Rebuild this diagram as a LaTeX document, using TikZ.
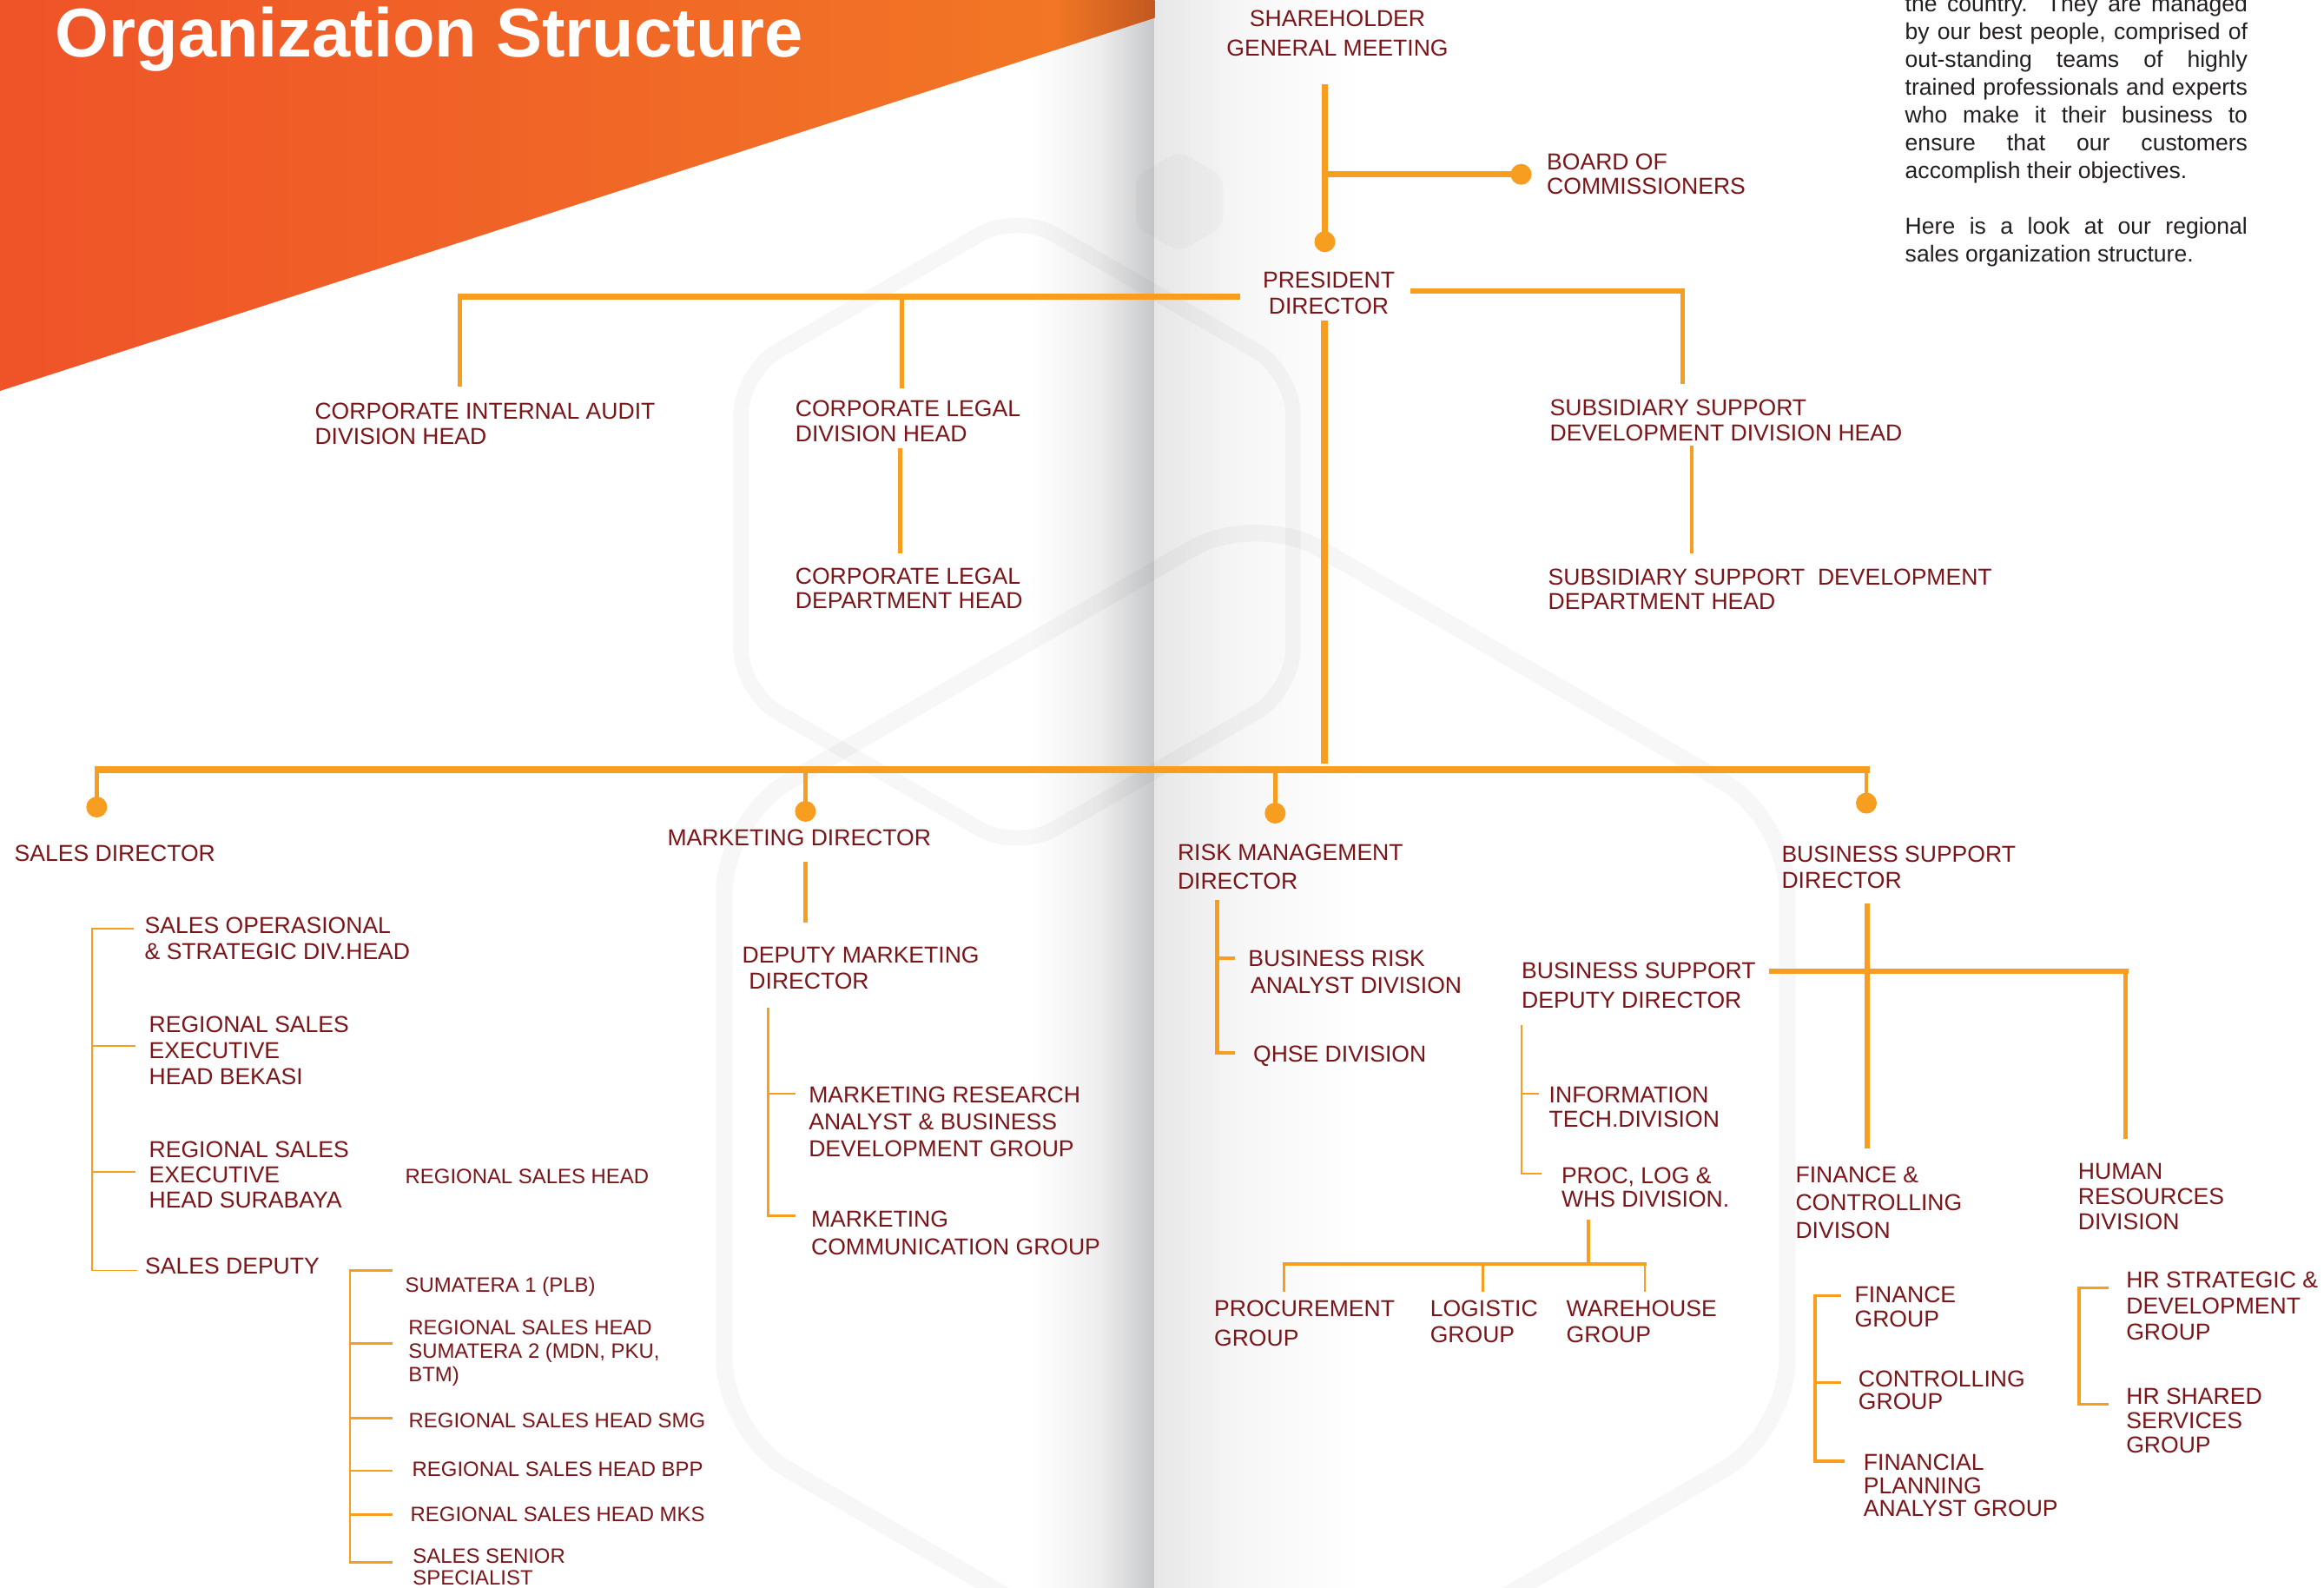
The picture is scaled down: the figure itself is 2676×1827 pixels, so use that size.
\documentclass[tikz,border=0pt]{standalone}
\usepackage{fontspec}
\setmainfont{Liberation Sans}
\definecolor{lor}{RGB}{247,158,33}
\definecolor{tred}{RGB}{122,22,26}
\definecolor{ptxt}{RGB}{35,31,32}
\definecolor{bnL}{RGB}{239,83,40}
\definecolor{bnR}{RGB}{242,118,37}
\definecolor{bnD}{RGB}{194,88,32}
\definecolor{spA}{RGB}{238,238,238}
\definecolor{spB}{RGB}{199,200,202}
\definecolor{spC}{RGB}{231,231,231}
\definecolor{spD}{RGB}{246,246,246}
\newcommand\Ltab[1]{\begin{tabular}[t]{@{}l@{}}#1\end{tabular}}
\newcommand\Ctab[1]{\begin{tabular}[t]{@{}c@{}}#1\end{tabular}}
\tikzset{
  lbl/.style={anchor=base west, inner sep=0pt, text=tred, font=\fontsize{7.55}{#1}\selectfont},
  lbl/.default=8.5,
  lbs/.style={anchor=base west, inner sep=0pt, text=tred, font=\fontsize{6.8}{#1}\selectfont},
  lbs/.default=7.7,
  lbc/.style={anchor=base, inner sep=0pt, text=tred, font=\fontsize{7.55}{#1}\selectfont},
  lbc/.default=8.5,
  dot/.style={circle, fill=lor, inner sep=0pt, minimum size=0.24cm},
  wbus/.style={draw=lor, line width=2.28pt},
  wmain/.style={draw=lor, line width=1.85pt},
  wmed/.style={draw=lor, line width=1.3pt},
  wmid/.style={draw=lor, line width=1pt},
  wthin/.style={draw=lor, line width=0.75pt},
  whair/.style={draw=lor, line width=0.55pt},
  hexw/.style={draw=black, draw opacity=0.03},
}
\begin{document}
\begin{tikzpicture}[x=0.01cm, y=-0.01cm]
\useasboundingbox (0,0) rectangle (2676,1827);
\fill[white] (0,0) rectangle (2676,1827);
% spine shadows
\shade[left color=white, right color=spA] (1185,0) rectangle (1266,1827);
\shade[left color=spA, right color=spB] (1265,0) rectangle (1329.5,1827);
\shade[left color=spC, right color=spD] (1329,0) rectangle (1425,1827);
\shade[left color=spD, right color=white] (1424,0) rectangle (1565,1827);
% watermark hexagons
\draw[hexw, line width=5pt, rounded corners=14pt] (1171,245) -- (1489,428.5) -- (1489,795.5) -- (1171,979) -- (853,795.5) -- (853,428.5) -- cycle;
\draw[hexw, line width=5.5pt, rounded corners=24pt] (1446,589) -- (2058,942.5) -- (2058,1649.5) -- (1446,2003) -- (834,1649.5) -- (834,942.5) -- cycle;
\fill[black, fill opacity=0.025, rounded corners=3pt] (1358,174) -- (1408,203) -- (1408,261) -- (1358,290) -- (1308,261) -- (1308,203) -- cycle;
% banner
\begin{scope}
\clip (0,0) -- (1329.5,0) -- (1329.5,20.7) -- (0,450) -- cycle;
\shade[left color=bnL, right color=bnR] (0,0) rectangle (1216,450);
\shade[left color=bnR, right color=bnD] (1215,0) rectangle (1329.5,450);
\end{scope}
\node[anchor=base west, inner sep=0pt, text=white, font=\fontsize{22.6}{27}\selectfont\bfseries] (title) at (63,65) {Organization Structure};

% ---------- coordinates ----------
\coordinate (shT) at (1525.5,97);
\coordinate (jBoc) at (1525.5,200.7);
\node[dot] (dBoc) at (1751.5,200.7) {};
\node[dot] (dPres) at (1525.5,278.3) {};
\coordinate (pL) at (1427.7,341.5);
\coordinate (pLa) at (527.3,341.5);
\coordinate (aT) at (529.6,338.3);
\coordinate (aB) at (529.6,445);
\coordinate (lT) at (1038.3,341.5);
\coordinate (lB) at (1038.3,447);
\coordinate (pR) at (1623.7,335);
\coordinate (pRc) at (1939.8,335);
\coordinate (sT) at (1937.5,331.8);
\coordinate (sB) at (1937.5,441.7);
\coordinate (lgT) at (1036.7,515.8);
\coordinate (lgB) at (1036.7,636.6);
\coordinate (sbT) at (1948,513);
\coordinate (sbB) at (1948,637);
\coordinate (trT) at (1524.5,369);
\coordinate (trB) at (1524.5,879);
\coordinate (busL) at (109,886);
\coordinate (busR) at (2152.5,886);
\coordinate (bS) at (111.4,886);
\coordinate (bM) at (927.4,886);
\coordinate (bR) at (1468.3,886);
\coordinate (bB) at (2149,882);
\node[dot] (dS) at (111.4,929) {};
\node[dot] (dM) at (927.4,934) {};
\node[dot] (dR) at (1468.3,936) {};
\node[dot] (dB) at (2149,924.5) {};

% top connectors
\draw[wmain] (shT) -- (dPres.center);
\draw[wmain] (jBoc) -- (dBoc.center);
\draw[wmain] (pL) -- (pLa);
\draw[wmed] (aT) -- (aB);
\draw[wmed] (lT) -- (lB);
\draw[wmain] (pR) -- (pRc);
\draw[wmed] (sT) -- (sB);
\draw[wmed] (lgT) -- (lgB);
\draw[wmed] (sbT) -- (sbB);
\draw[wbus] (trT) -- (trB);
\draw[wbus] (busL) -- (busR);
\draw[wmed] (bS) -- (dS.center);
\draw[wmed] (bM) -- (dM.center);
\draw[wmed] (bR) -- (dR.center);
\draw[wmed] (bB) -- (dB.center);

% sales subtree
\coordinate (slA) at (154,1069);
\coordinate (slT) at (106,1069);
\coordinate (slB) at (106,1462.5);
\coordinate (slC) at (158,1462.5);
\coordinate (sl2a) at (106,1204); \coordinate (sl2b) at (156,1204);
\coordinate (sl3a) at (106,1349); \coordinate (sl3b) at (156,1349);
\draw[whair] (slA) -- (slT) -- (slB) -- (slC);
\draw[whair] (sl2a) -- (sl2b);
\draw[whair] (sl3a) -- (sl3b);
\coordinate (sdA) at (451.8,1462.5);
\coordinate (sdT) at (403,1462.5);
\coordinate (sdB) at (403,1798.3);
\coordinate (sdC) at (451.8,1798.3);
\coordinate (sd1a) at (403,1546.6); \coordinate (sd1b) at (451.8,1546.6);
\coordinate (sd2a) at (403,1632.6); \coordinate (sd2b) at (451.8,1632.6);
\coordinate (sd3a) at (403,1693); \coordinate (sd3b) at (451.8,1693);
\coordinate (sd4a) at (403,1743.5); \coordinate (sd4b) at (451.8,1743.5);
\draw[wthin] (sdA) -- (sdT) -- (sdB) -- (sdC);
\draw[wthin] (sd1a) -- (sd1b);
\draw[wthin] (sd2a) -- (sd2b);
\draw[wthin] (sd3a) -- (sd3b);
\draw[wthin] (sd4a) -- (sd4b);

% marketing subtree
\coordinate (mkT) at (927.7,991.7);
\coordinate (mkB) at (927.7,1062.3);
\draw[wmed] (mkT) -- (mkB);
\coordinate (mkS1) at (884.6,1159.6);
\coordinate (mkS2) at (884.6,1399.2);
\coordinate (mkS3) at (916.2,1399.2);
\coordinate (mkJ1) at (884.6,1259);
\coordinate (mkJ2) at (916.2,1259);
\draw[wthin] (mkS1) -- (mkS2) -- (mkS3);
\draw[wthin] (mkJ1) -- (mkJ2);

% risk subtree
\coordinate (rkT) at (1401.2,1035.6);
\coordinate (rkB) at (1401.2,1212);
\coordinate (rkC) at (1422.3,1212);
\coordinate (rkJ1) at (1401.2,1103);
\coordinate (rkJ2) at (1422.3,1103);
\draw[wmed] (rkT) -- (rkB) -- (rkC);
\draw[wmid] (rkJ1) -- (rkJ2);

% business support subtree
\coordinate (bsT) at (2150,1040);
\coordinate (bsB) at (2150,1321.6);
\coordinate (bhL) at (2037,1118);
\coordinate (bhR) at (2450.5,1118);
\coordinate (hrT) at (2447.6,1115);
\coordinate (hrB) at (2447.6,1311);
\draw[wmain] (bsT) -- (bsB);
\draw[wmain] (bhL) -- (bhR);
\draw[wmed] (hrT) -- (hrB);
\coordinate (ddT) at (1752.3,1180);
\coordinate (ddB) at (1752.3,1351);
\coordinate (ddC) at (1775.3,1351);
\coordinate (ddJ1) at (1752.3,1259);
\coordinate (ddJ2) at (1771.5,1259);
\draw[whair] (ddT) -- (ddB) -- (ddC);
\draw[whair] (ddJ1) -- (ddJ2);
\coordinate (plT) at (1828.9,1403.5);
\coordinate (plB) at (1828.9,1454.8);
\coordinate (phL) at (1476.8,1454.8);
\coordinate (phR) at (1895.8,1454.8);
\coordinate (pd1a) at (1478.5,1454.8); \coordinate (pd1b) at (1478.5,1487);
\coordinate (pd2a) at (1707.4,1454.8); \coordinate (pd2b) at (1707.4,1487);
\coordinate (pd3a) at (1894,1454.8); \coordinate (pd3b) at (1894,1487);
\draw[wmed] (plT) -- (plB);
\draw[wmed] (phL) -- (phR);
\draw[wthin] (pd1a) -- (pd1b);
\draw[wthin] (pd2a) -- (pd2b);
\draw[wthin] (pd3a) -- (pd3b);
\coordinate (fsA) at (2119.6,1491.7);
\coordinate (fsT) at (2089.8,1491.7);
\coordinate (fsB) at (2089.8,1681.8);
\coordinate (fsC) at (2123.8,1681.8);
\coordinate (fsJ1) at (2089.8,1591.4);
\coordinate (fsJ2) at (2119.6,1591.4);
\draw[wmid] (fsA) -- (fsT) -- (fsB) -- (fsC);
\draw[wmid] (fsJ1) -- (fsJ2);
\coordinate (hsA) at (2428,1482.4);
\coordinate (hsT) at (2393.9,1482.4);
\coordinate (hsB) at (2393.9,1616.4);
\coordinate (hsC) at (2428,1616.4);
\draw[wmid] (hsA) -- (hsT) -- (hsB) -- (hsC);

% ---------- labels ----------
\node[lbc=9.56] (shm) at (1540,30.7) {\Ctab{SHAREHOLDER\\GENERAL MEETING}};
\node[lbl=8.05] (boc) at (1780.5,195) {\Ltab{BOARD OF\\COMMISSIONERS}};
\node[lbc=8.54] (pres) at (1530,331.7) {\Ctab{PRESIDENT\\DIRECTOR}};
\node[lbl=8.3] (aud) at (361.8,482.5) {\Ltab{CORPORATE INTERNAL AUDIT\\DIVISION HEAD}};
\node[lbl=8.22] (legd) at (915.2,479.4) {\Ltab{CORPORATE LEGAL\\DIVISION HEAD}};
\node[lbl=8.2] (legp) at (915.2,672) {\Ltab{CORPORATE LEGAL\\DEPARTMENT HEAD}};
\node[lbl=8.22] (subd) at (1783.9,478.3) {\Ltab{SUBSIDIARY SUPPORT\\DEVELOPMENT DIVISION HEAD}};
\node[lbl=8.22] (subp) at (1782,673) {\Ltab{SUBSIDIARY SUPPORT\ \ DEVELOPMENT\\DEPARTMENT HEAD}};

\node[lbl] (sald) at (16,991.7) {SALES DIRECTOR};
\node[lbl=8.68] (sop) at (166,1074) {\Ltab{SALES OPERASIONAL\\\& STRATEGIC DIV.HEAD}};
\node[lbl=8.54] (rbek) at (171,1188) {\Ltab{REGIONAL SALES\\EXECUTIVE\\HEAD BEKASI}};
\node[lbl=8.25] (rsur) at (171,1332.5) {\Ltab{REGIONAL SALES\\EXECUTIVE\\HEAD SURABAYA}};
\node[lbs] (rsh) at (466,1362) {REGIONAL SALES HEAD};
\node[lbl] (sdep) at (166.5,1466.5) {SALES DEPUTY};
\node[lbs] (sum1) at (466,1487.5) {SUMATERA 1 (PLB)};
\node[lbs=7.7] (sum2) at (469.6,1536.5) {\Ltab{REGIONAL SALES HEAD\\SUMATERA 2 (MDN, PKU,\\BTM)}};
\node[lbs] (smg) at (470,1643.3) {REGIONAL SALES HEAD SMG};
\node[lbs] (bpp) at (474,1699.3) {REGIONAL SALES HEAD BPP};
\node[lbs] (mks) at (472,1751) {REGIONAL SALES HEAD MKS};
\node[lbs=7.1] (sss) at (474.7,1799.5) {\Ltab{SALES SENIOR\\SPECIALIST}};

\node[lbl] (mkd) at (767.9,973.5) {MARKETING DIRECTOR};
\node[lbl=8.54] (dmk) at (854,1108.3) {\Ltab{DEPUTY MARKETING\\\hspace*{2.2pt}DIRECTOR}};
\node[lbl=8.82] (mrr) at (930.6,1269.8) {\Ltab{MARKETING RESEARCH\\ANALYST \& BUSINESS\\DEVELOPMENT GROUP}};
\node[lbl=9.1] (mcg) at (933.4,1412) {\Ltab{MARKETING\\COMMUNICATION GROUP}};

\node[lbl=9.45] (rmd) at (1355.3,990.6) {\Ltab{RISK MANAGEMENT\\DIRECTOR}};
\node[lbl=8.82] (bra) at (1436.6,1112.6) {\Ltab{BUSINESS RISK\\\hspace*{0.8pt}ANALYST DIVISION}};
\node[lbl] (qhse) at (1442.4,1222.7) {QHSE DIVISION};

\node[lbl=8.5] (bsd) at (2050.8,992.8) {\Ltab{BUSINESS SUPPORT\\DIRECTOR}};
\node[lbl=9.73] (bsdd) at (1751.4,1126.5) {\Ltab{BUSINESS SUPPORT\\DEPUTY DIRECTOR}};
\node[lbl=7.9] (itd) at (1783,1269.8) {\Ltab{INFORMATION\\TECH.DIVISION}};
\node[lbl=7.3] (plw) at (1797.3,1362.8) {\Ltab{PROC, LOG \&\\WHS DIVISION.}};
\node[lbl=9.45] (proc) at (1397.4,1515.8) {\Ltab{PROCUREMENT\\GROUP}};
\node[lbl=8.5] (logi) at (1646.1,1515.8) {\Ltab{LOGISTIC\\GROUP}};
\node[lbl=8.5] (ware) at (1803,1515.8) {\Ltab{WAREHOUSE\\GROUP}};
\node[lbl=9.1] (fcd) at (2066.8,1361.8) {\Ltab{FINANCE \&\\CONTROLLING\\DIVISON}};
\node[lbl=8.25] (hrd) at (2392.2,1357.5) {\Ltab{HUMAN\\RESOURCES\\DIVISION}};
\node[lbl=7.97] (fg) at (2134.9,1499) {\Ltab{FINANCE\\GROUP}};
\node[lbl=7.4] (cg) at (2139.2,1596) {\Ltab{CONTROLLING\\GROUP}};
\node[lbl=7.54] (fpa) at (2145.2,1692.6) {\Ltab{FINANCIAL\\PLANNING\\ANALYST GROUP}};
\node[lbl=8.6] (hrs) at (2447.6,1482) {\Ltab{HR STRATEGIC \&\\DEVELOPMENT\\GROUP}};
\node[lbl=8.1] (hrsh) at (2447.6,1616) {\Ltab{HR SHARED\\SERVICES\\GROUP}};

% paragraph
\node[anchor=base west, inner sep=0pt, text=ptxt, font=\fontsize{7.55}{9.1}\selectfont] (para) at (2193,13.3) {\begin{tabular}[t]{@{}l@{}}
\makebox[3.94cm][s]{the country. They are managed}\\
\makebox[3.94cm][s]{by our best people, comprised of}\\
\makebox[3.94cm][s]{out-standing teams of highly}\\
\makebox[3.94cm][s]{trained professionals and experts}\\
\makebox[3.94cm][s]{who make it their business to}\\
\makebox[3.94cm][s]{ensure that our customers}\\
accomplish their objectives.\\
\\
\makebox[3.94cm][s]{Here is a look at our regional}\\
sales organization structure.
\end{tabular}};
\end{tikzpicture}
\end{document}
